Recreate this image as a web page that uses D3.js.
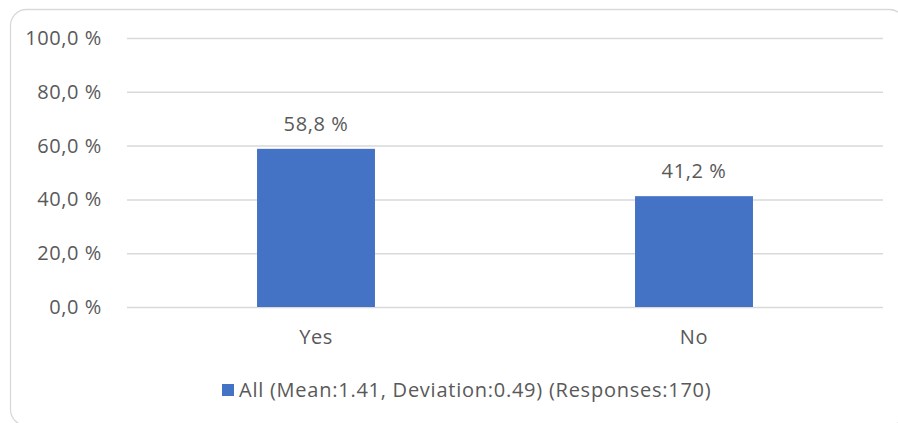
<!DOCTYPE html>
<html>
<head>
<meta charset="utf-8">
<script src="https://cdn.jsdelivr.net/npm/d3@7"></script>
<style>
  html, body { margin: 0; padding: 0; background: #fff; }
  svg { display: block; }
  text { font-family: "Open Sans", "Noto Sans", sans-serif; fill: #595959; letter-spacing: 0.6px; }
</style>
</head>
<body>
<svg id="chart" width="898" height="423"></svg>
<script>
// Share of answers per category (percent)
const categories = ["Yes", "No"];
const values = [58.8, 41.2];
const yTicks = [0, 20, 40, 60, 80, 100];
const seriesName = "All (Mean:1.41, Deviation:0.49) (Responses:170)";

const plot = { left: 127, right: 883, top: 38, bottom: 307 };
const barColor = "#4472c4";
const gridColor = "#d9d9d9";
const fontSize = 20;

const fmt = v => v.toFixed(1).replace(".", ",") + " %";

const svg = d3.select("#chart");

// Chart frame with rounded corners
svg.append("rect")
  .attr("x", 10.5).attr("y", 9.5)
  .attr("width", 895).attr("height", 416)
  .attr("rx", 16).attr("ry", 16)
  .attr("fill", "#fff")
  .attr("stroke", gridColor)
  .attr("stroke-width", 1.3);

const x = d3.scaleBand()
  .domain(categories)
  .range([plot.left, plot.right])
  .paddingInner(0.688)
  .paddingOuter(0.344);

const y = d3.scaleLinear()
  .domain([0, 100])
  .range([plot.bottom, plot.top]);

// Horizontal gridlines and value-axis labels
const yAxis = d3.axisLeft(y)
  .tickValues(yTicks)
  .tickSize(-(plot.right - plot.left))
  .tickPadding(25)
  .tickFormat(fmt);

const gy = svg.append("g")
  .attr("transform", `translate(${plot.left},0)`)
  .call(yAxis);
gy.select(".domain").remove();
gy.selectAll(".tick line")
  .attr("stroke", gridColor)
  .attr("stroke-width", 1.5);
gy.selectAll(".tick text")
  .attr("font-size", fontSize)
  .attr("fill", "#595959")
  .attr("font-family", '"Open Sans", "Noto Sans", sans-serif');

// Bars
svg.append("g").selectAll("rect")
  .data(values)
  .join("rect")
  .attr("x", (d, i) => x(categories[i]))
  .attr("y", d => y(d))
  .attr("width", x.bandwidth())
  .attr("height", d => y(0) - y(d))
  .attr("fill", barColor);

// Value labels above bars
svg.append("g").selectAll("text")
  .data(values)
  .join("text")
  .attr("x", (d, i) => x(categories[i]) + x.bandwidth() / 2)
  .attr("y", d => y(d) - 18)
  .attr("text-anchor", "middle")
  .attr("font-size", fontSize)
  .text(d => fmt(d));

// Category axis labels
const xAxis = d3.axisBottom(x).tickSize(0).tickPadding(23);
const gx = svg.append("g")
  .attr("transform", `translate(0,${plot.bottom})`)
  .call(xAxis);
gx.select(".domain").remove();
gx.selectAll(".tick text")
  .attr("font-size", fontSize)
  .attr("fill", "#595959")
  .attr("font-family", '"Open Sans", "Noto Sans", sans-serif');

// Legend
const legend = svg.append("g").attr("transform", "translate(222,384)");
legend.append("rect")
  .attr("x", 0).attr("y", 0)
  .attr("width", 12).attr("height", 12)
  .attr("fill", barColor);
legend.append("text")
  .attr("x", 17).attr("y", 13)
  .attr("font-size", fontSize)
  .style("letter-spacing", "0.75px")
  .text(seriesName);
</script>
</body>
</html>
